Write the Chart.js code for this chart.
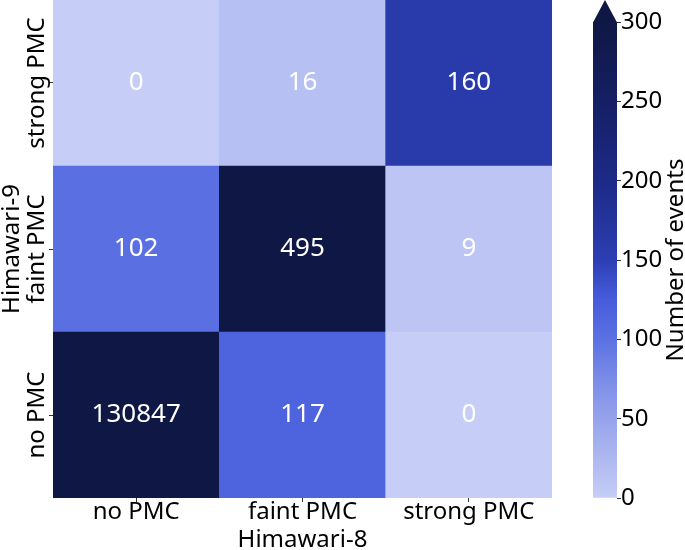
<!DOCTYPE html>
<html><head><meta charset="utf-8">
<script src="https://cdn.jsdelivr.net/npm/chart.js@4/dist/chart.umd.min.js"></script>
<style>
html,body{margin:0;padding:0;background:#fff;width:685px;height:550px;overflow:hidden}
#main{position:absolute;left:0;top:0}
#cb{position:absolute;left:580px;top:0}
</style></head><body>
<canvas id="main" width="580" height="550"></canvas>
<canvas id="cb" width="105" height="550"></canvas>
<script>
// ---- data ----
const xLabels = ['no PMC', 'faint PMC', 'strong PMC'];          // Himawari-8 classes
const yLabels = ['no PMC', 'faint PMC', 'strong PMC'];          // Himawari-9 classes, bottom to top
const xTitle = 'Himawari-8';
const yTitle = ['Himawari-9'];
const rowNoPMC = [130847, 117, 0];
const rowFaintPMC = [102, 495, 9];
const rowStrongPMC = [0, 16, 160];
const colorbarMin = 0;
const colorbarMax = 300;
const colorbarStep = 50;
const colorbarTitle = 'Number of events';

// ---- colormap (style) ----
const cmapStops = [
  [0, [198, 205, 246]], [25, [174, 184, 240]], [50, [150, 163, 235]], [75, [122, 140, 231]],
  [100, [92, 113, 226]], [125, [72, 92, 220]], [150, [45, 62, 180]], [175, [35, 52, 155]],
  [200, [28, 42, 135]], [250, [21, 31, 100]], [300, [15, 23, 68]]
];
function cmap(v) {
  if (v <= cmapStops[0][0]) return rgb(cmapStops[0][1]);
  for (let i = 1; i < cmapStops.length; i++) {
    const [v1, c1] = cmapStops[i];
    if (v <= v1) {
      const [v0, c0] = cmapStops[i - 1];
      const t = (v - v0) / (v1 - v0);
      return rgb(c0.map((c, k) => c + (c1[k] - c) * t));
    }
  }
  return rgb(cmapStops[cmapStops.length - 1][1]);
}
function rgb(c) { return 'rgb(' + c.map(Math.round).join(',') + ')'; }

const FONT = '"Noto Sans", "DejaVu Sans", sans-serif';
const rows = [rowNoPMC, rowFaintPMC, rowStrongPMC];

const cellLabels = {
  id: 'cellLabels',
  afterDatasetsDraw(chart) {
    const ctx = chart.ctx;
    ctx.save();
    ctx.fillStyle = '#ffffff';
    ctx.font = '26px ' + FONT;
    ctx.textAlign = 'center';
    ctx.textBaseline = 'middle';
    chart.data.datasets.forEach((ds, di) => {
      chart.getDatasetMeta(di).data.forEach((el, j) => {
        ctx.fillText(String(ds.counts[j]), el.x, (el.y + el.base) / 2);
      });
    });
    ctx.restore();
  }
};
const yAxisText = {
  id: 'yAxisText',
  afterDraw(chart) {
    const ctx = chart.ctx, ys = chart.scales.y, ca = chart.chartArea;
    ctx.save();
    ctx.fillStyle = '#000';
    ctx.font = '24px ' + FONT;
    ctx.textAlign = 'center';
    ctx.textBaseline = 'middle';
    yLabels.forEach((lab, i) => {
      const py = ys.getPixelForValue(i + 0.5);
      ctx.save(); ctx.translate(37, py); ctx.rotate(-Math.PI / 2); ctx.fillText(lab, 0, 0); ctx.restore();
    });
    ctx.save(); ctx.translate(12, (ca.top + ca.bottom) / 2); ctx.rotate(-Math.PI / 2);
    ctx.fillText(yTitle[0], 0, 0); ctx.restore();
    ctx.restore();
  }
};

new Chart(document.getElementById('main'), {
  type: 'bar',
  data: {
    labels: xLabels,
    datasets: rows.map((vals, i) => ({
      label: yLabels[i],
      data: vals.map(() => [i, i + 1]),
      counts: vals,
      backgroundColor: vals.map(cmap),
      borderWidth: 0,
      barPercentage: 1,
      categoryPercentage: 1,
      grouped: false
    }))
  },
  options: {
    responsive: false, animation: false, devicePixelRatio: 1,
    layout: { padding: { top: 0, right: 28, left: 0, bottom: 0 } },
    plugins: { legend: { display: false }, tooltip: { enabled: false } },
    scales: {
      x: {
        type: 'category', offset: true,
        grid: { display: true, drawOnChartArea: false, offset: false, tickLength: 4, color: '#333' },
        border: { display: false },
        ticks: { color: '#000', font: { family: FONT, size: 24, lineHeight: 1 }, padding: -2, maxRotation: 0, minRotation: 0 },
        title: { display: true, text: xTitle, color: '#000', font: { family: FONT, size: 24, lineHeight: 1 }, padding: { top: 0, bottom: -2 } },
        afterFit(s) { s.height = 52; }
      },
      y: {
        type: 'linear', min: 0, max: 3,
        afterBuildTicks(s) { s.ticks = yLabels.map((_, i) => ({ value: i + 0.5 })); },
        grid: { display: true, drawOnChartArea: false, tickLength: 4, color: '#333' },
        border: { display: false },
        ticks: { display: false },
        afterFit(s) { s.width = 53; }
      }
    }
  },
  plugins: [cellLabels, yAxisText]
});

const cbExtras = {
  id: 'cbExtras',
  afterDatasetsDraw(chart) {
    const ctx = chart.ctx, ca = chart.chartArea;
    ctx.save();
    ctx.fillStyle = cmap(colorbarMax);
    ctx.beginPath();
    ctx.moveTo(ca.left, ca.top + 0.5);
    ctx.lineTo(ca.right, ca.top + 0.5);
    ctx.lineTo((ca.left + ca.right) / 2, 0);
    ctx.closePath();
    ctx.fill();
    ctx.restore();
  },
  afterDraw(chart) {
    const ctx = chart.ctx, ca = chart.chartArea;
    ctx.save();
    ctx.fillStyle = '#000';
    ctx.font = '24px ' + FONT;
    ctx.textAlign = 'center';
    ctx.textBaseline = 'alphabetic';
    ctx.translate(103, (ca.top + ca.bottom) / 2);
    ctx.rotate(-Math.PI / 2);
    ctx.fillText(colorbarTitle, 0, 0);
    ctx.restore();
  }
};

new Chart(document.getElementById('cb'), {
  type: 'bar',
  data: {
    labels: [''],
    datasets: [{
      data: [[colorbarMin, colorbarMax]],
      borderWidth: 0, barPercentage: 1, categoryPercentage: 1,
      backgroundColor(c) {
        const chart = c.chart, ys = chart.scales.y;
        if (!chart.chartArea || !ys) return cmap(150);
        const y0 = ys.getPixelForValue(colorbarMin), y1 = ys.getPixelForValue(colorbarMax);
        const g = chart.ctx.createLinearGradient(0, y0, 0, y1);
        cmapStops.forEach(([v, col]) => g.addColorStop((v - colorbarMin) / (colorbarMax - colorbarMin), rgb(col)));
        return g;
      }
    }]
  },
  options: {
    responsive: false, animation: false, devicePixelRatio: 1,
    layout: { padding: { top: 22, left: 13, right: 0, bottom: 52 } },
    plugins: { legend: { display: false }, tooltip: { enabled: false } },
    scales: {
      x: { display: false, offset: true },
      y: {
        position: 'right', min: colorbarMin, max: colorbarMax,
        ticks: { stepSize: colorbarStep, color: '#000', font: { family: FONT, size: 24, lineHeight: 1 }, padding: 0 },
        grid: { display: true, drawOnChartArea: false, tickLength: 4, color: '#333' },
        border: { display: false },
        afterFit(s) { s.width = 68; }
      }
    }
  },
  plugins: [cbExtras]
});
</script>
</body></html>
